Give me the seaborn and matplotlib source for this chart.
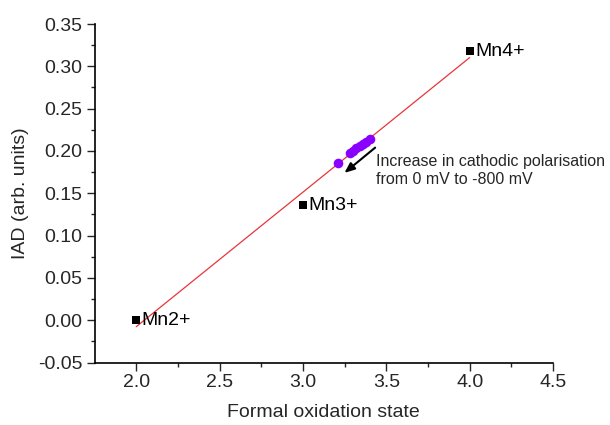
import matplotlib
matplotlib.use("Agg")
import matplotlib.pyplot as plt
import seaborn as sns
import pandas as pd
import numpy as np

# Reference Mn oxidation states
ref_labels = ["Mn2+", "Mn3+", "Mn4+"]
ref_ox = [2.0, 3.0, 4.0]
ref_iad = [0.0, 0.136, 0.318]

# Measured samples (purple)
samp_ox = [3.208, 3.28, 3.30, 3.32, 3.345, 3.36, 3.38, 3.40]
samp_iad = [0.1855, 0.197, 0.200, 0.203, 0.206, 0.208, 0.211, 0.214]

annot_lines = ["Increase in cathodic polarisation", "from 0 mV to -800 mV"]

sns.set_style("ticks")
plt.rcParams['font.family'] = ['Liberation Sans', 'DejaVu Sans']

ref_df = pd.DataFrame({"ox": ref_ox, "iad": ref_iad, "label": ref_labels})
samp_df = pd.DataFrame({"ox": samp_ox, "iad": samp_iad})

fig = plt.figure(figsize=(6.1, 4.25), dpi=100)
ax = fig.add_axes([0.155, 0.147, 0.7516, 0.7965])

sns.regplot(data=ref_df, x="ox", y="iad", scatter=False, ci=None, ax=ax,
            line_kws=dict(color="#e8353a", lw=0.9), truncate=True)
sns.scatterplot(data=ref_df, x="ox", y="iad", marker="s", s=36, color="black",
                edgecolor="black", linewidth=0, ax=ax, zorder=5)
sns.scatterplot(data=samp_df, x="ox", y="iad", marker="o", s=48, color="#8a00ff",
                edgecolor="#8a00ff", linewidth=0, ax=ax, zorder=6)

for lbl, x, y in zip(ref_labels, ref_ox, ref_iad):
    ax.annotate(lbl, (x, y), xytext=(4, 0), textcoords="offset points",
                ha="left", va="center", fontsize=14, color="black", zorder=7)

ax.annotate("", xy=(3.236, 0.172), xytext=(3.446, 0.206),
            arrowprops=dict(arrowstyle="-|>,head_length=0.6,head_width=0.25",
                            color="black", lw=1.5))
ax.text(3.44, 0.196, "\n".join(annot_lines), fontsize=11.5, ha="left", va="top",
        linespacing=1.2)

ax.set_xlim(1.75, 4.5)
ax.set_ylim(-0.05, 0.35)
ax.set_xticks([2.0, 2.5, 3.0, 3.5, 4.0, 4.5])
ax.set_xticks([2.25, 2.75, 3.25, 3.75, 4.25], minor=True)
ax.set_yticks(np.round(np.arange(-0.05, 0.351, 0.05), 2))
ax.set_yticks(np.round(np.arange(-0.025, 0.35, 0.05), 3), minor=True)
ax.xaxis.set_major_formatter(matplotlib.ticker.FormatStrFormatter("%.1f"))
ax.yaxis.set_major_formatter(matplotlib.ticker.FormatStrFormatter("%.2f"))
ax.tick_params(which="major", direction="out", length=5.5, width=1, labelsize=14, pad=3)
ax.tick_params(which="minor", direction="out", length=3, width=1)
for s in ["left", "bottom"]:
    ax.spines[s].set_linewidth(1.2)
    ax.spines[s].set_color("black")
sns.despine(ax=ax)

ax.set_xlabel("Formal oxidation state", fontsize=14, labelpad=9)
ax.set_ylabel("IAD (arb. units)", fontsize=14, labelpad=7)

fig.savefig("out.png", dpi=100)
